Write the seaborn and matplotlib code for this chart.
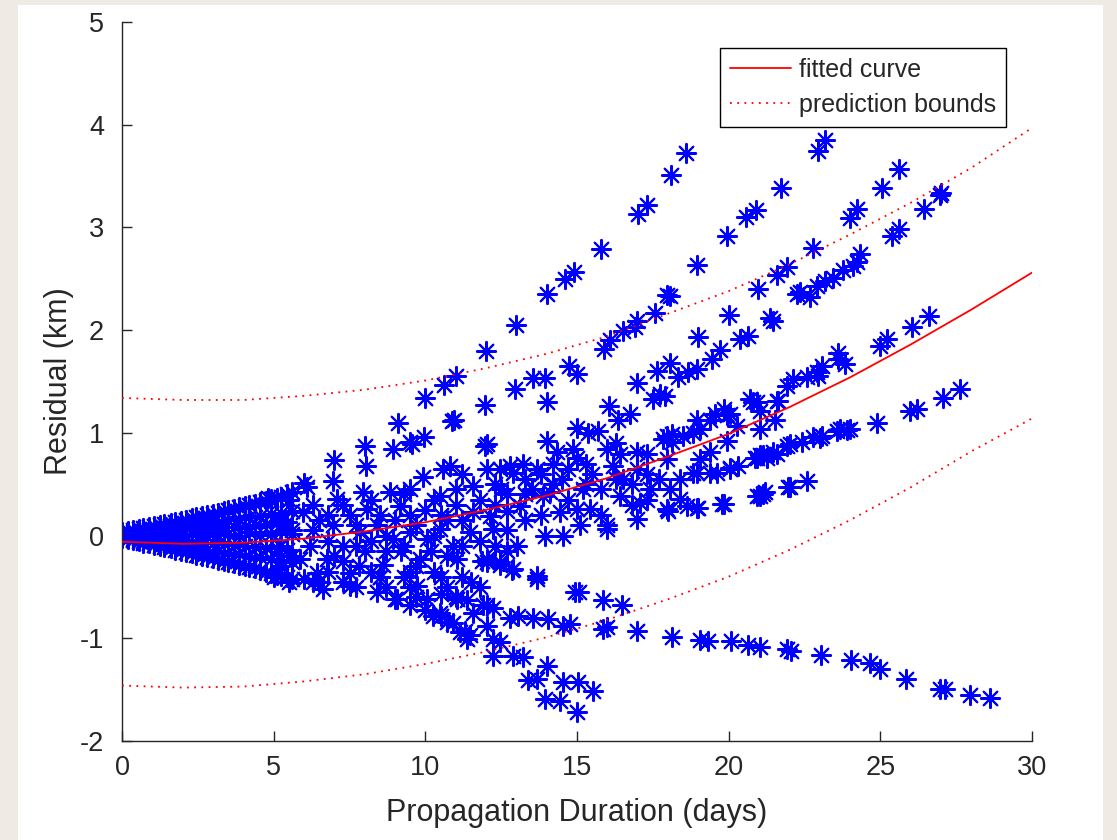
import matplotlib
matplotlib.use("Agg")
import matplotlib.pyplot as plt
from matplotlib.patches import Rectangle
import pandas as pd
import seaborn as sns

# ---------------- data ----------------
# left wedge (x in days, residual in km)
wedge_x = [0.0, 0.35, 0.7, 1.05, 1.4, 1.75, 2.1, 2.45, 2.8, 3.15, 3.5, 3.85, 4.2, 4.55, 4.9, 5.25, 5.6]
wedge_top_y = [0.03, 0.05, 0.07, 0.09, 0.11, 0.13, 0.15, 0.18, 0.20, 0.22, 0.25, 0.28, 0.30, 0.33, 0.36, 0.38, 0.42]
wedge_up_y = [0.02, 0.03, 0.04, 0.05, 0.07, 0.08, 0.09, 0.10, 0.12, 0.13, 0.15, 0.16, 0.18, 0.19, 0.21, 0.22, 0.24]
wedge_mid_y = [0.0, 0.0, 0.0, 0.01, 0.0, 0.01, 0.0, 0.02, 0.0, 0.01, 0.02, 0.0, 0.03, 0.01, 0.02, 0.04, 0.02]
wedge_low_y = [-0.01, -0.03, -0.05, -0.06, -0.08, -0.09, -0.11, -0.12, -0.14, -0.15, -0.17, -0.18, -0.20, -0.21, -0.23, -0.24, -0.26]
wedge_bot_y = [-0.02, -0.04, -0.07, -0.09, -0.11, -0.14, -0.16, -0.19, -0.21, -0.24, -0.26, -0.29, -0.31, -0.34, -0.36, -0.39, -0.42]
wedge2_x = [0.2, 0.55, 0.9, 1.25, 1.6, 1.95, 2.3, 2.65, 3.0, 3.35, 3.7, 4.05, 4.4, 4.75, 5.1, 5.45]
wedge2_a_y = [0.04, 0.06, 0.08, 0.10, 0.12, 0.14, 0.17, 0.19, 0.21, 0.24, 0.26, 0.29, 0.31, 0.34, 0.37, 0.40]
wedge2_b_y = [0.01, 0.02, 0.02, 0.03, 0.04, 0.05, 0.05, 0.06, 0.07, 0.08, 0.08, 0.09, 0.10, 0.11, 0.12, 0.13]
wedge2_c_y = [-0.01, -0.02, -0.03, -0.04, -0.04, -0.05, -0.06, -0.07, -0.07, -0.08, -0.09, -0.10, -0.11, -0.12, -0.12, -0.14]
wedge2_d_y = [-0.03, -0.05, -0.07, -0.10, -0.12, -0.15, -0.17, -0.20, -0.22, -0.25, -0.27, -0.30, -0.32, -0.35, -0.38, -0.40]

# steepest upper track
track_a_x = [4.82, 5.5, 6.0, 6.1, 7.0, 8.0, 9.1, 10.0, 10.6, 11.0, 12.0, 13.0, 14.0, 14.6, 14.9, 15.8, 17.0, 17.3, 18.1, 18.6, 22.96, 23.18]
track_a_y = [0.37, 0.35, 0.51, 0.47, 0.74, 0.87, 1.10, 1.34, 1.47, 1.55, 1.80, 2.05, 2.35, 2.50, 2.57, 2.79, 3.13, 3.22, 3.51, 3.72, 3.74, 3.85]

# upper fan of tracks
upper_x = [9.5, 9.97, 10.87, 11.97, 12.96, 13.56, 13.95, 14.75, 14.99, 15.89, 16.09, 16.53, 16.91, 16.97,
           17.57, 17.96, 18.07, 18.95, 19.94, 20.56, 20.90, 21.73,
           20.01, 20.96, 21.59, 21.92, 22.79, 24.0, 24.22, 25.05, 25.6,
           22.24, 22.35, 22.68, 22.90, 23.18, 23.45, 23.78, 24.11, 24.22, 24.33, 25.38, 25.6, 26.45, 26.97, 27.0,
           16.04, 16.36, 16.75, 16.97, 17.52, 17.63, 17.74, 17.90, 18.07, 18.34, 18.67, 18.95, 19.0, 19.44,
           19.72, 20.38, 20.65, 21.36, 21.47,
           20.71, 20.93, 21.04, 21.59, 21.64, 21.92, 22.13, 22.57, 22.9, 22.96, 23.07, 23.62, 23.62, 23.84,
           24.99, 25.21, 26.04, 26.59]
upper_y = [0.91, 0.96, 1.12, 1.27, 1.43, 1.53, 1.53, 1.65, 1.57, 1.82, 1.90, 1.99, 2.03, 2.09,
           2.17, 2.34, 2.33, 2.63, 2.92, 3.10, 3.17, 3.38,
           2.15, 2.40, 2.54, 2.61, 2.80, 3.09, 3.18, 3.38, 3.57,
           2.35, 2.37, 2.32, 2.43, 2.48, 2.51, 2.59, 2.62, 2.66, 2.74, 2.92, 2.98, 3.18, 3.32, 3.34,
           1.26, 1.13, 1.18, 1.49, 1.33, 1.60, 1.38, 1.36, 1.68, 1.54, 1.59, 1.62, 1.93, 1.72,
           1.81, 1.91, 1.94, 2.12, 2.09,
           1.33, 1.30, 1.21, 1.31, 1.31, 1.46, 1.52, 1.54, 1.59, 1.55, 1.65, 1.72, 1.78, 1.67,
           1.85, 1.91, 2.03, 2.14]

# tracks right of x=17 around the fitted curve
middle_x = [17.85, 18.12, 18.51, 18.95, 19.06, 19.55, 19.83, 20.05, 20.27, 20.81, 21.04, 21.53, 19.94,
            19.39, 19.06, 18.84, 20.05, 17.96, 18.84, 19.39, 19.94]
middle_y = [0.94, 0.99, 0.97, 1.13, 1.04, 1.18, 1.23, 1.18, 1.07, 1.30, 1.04, 1.13, 0.92,
            0.81, 0.75, 0.61, 0.65, 0.75, 1.00, 1.13, 1.17]
lower_x = [18.07, 18.40, 18.95, 19.39, 19.61, 20.05, 20.32, 20.87, 20.93, 21.04, 21.14, 21.26, 21.47,
           21.59, 21.92, 22.02, 22.41, 22.79, 23.01, 23.07, 23.56, 23.67, 23.89, 24.0, 24.88, 25.98,
           26.2, 27.08, 27.63]
lower_y = [0.45, 0.55, 0.61, 0.61, 0.61, 0.66, 0.68, 0.76, 0.76, 0.78, 0.78, 0.76, 0.81,
           0.79, 0.87, 0.89, 0.91, 0.96, 0.95, 0.97, 1.02, 1.04, 1.03, 1.04, 1.10, 1.21,
           1.23, 1.34, 1.43]
bottom_x = [17.96, 18.01, 18.62, 18.95, 19.0, 19.77, 19.83, 20.93, 21.04, 21.14, 21.20, 22.01, 21.97, 22.57]
bottom_y = [0.26, 0.24, 0.29, 0.27, 0.27, 0.31, 0.31, 0.39, 0.39, 0.40, 0.42, 0.47, 0.47, 0.53]

# descending tracks
desc_x = [8.5, 9.5, 10.5, 11.0, 11.36, 11.91, 12.24, 12.79, 13.07, 13.56, 14.06, 14.55, 14.77, 15.87,
          15.98, 16.97, 18.13, 19.06, 19.32, 20.08, 20.64, 21.04, 21.93, 22.06, 23.05, 24.04, 24.66,
          24.99, 25.85, 26.97, 27.13, 27.96, 28.62]
desc_y = [-0.40, -0.50, -0.57, -0.60, -0.63, -0.68, -0.71, -0.80, -0.78, -0.80, -0.81, -0.88, -0.86, -0.91,
          -0.89, -0.93, -0.99, -1.02, -1.03, -1.03, -1.07, -1.08, -1.10, -1.12, -1.16, -1.21, -1.24,
          -1.30, -1.40, -1.49, -1.49, -1.55, -1.58]
desc_mid_x = [11.86, 12.46, 12.85, 13.67, 14.94, 15.05, 15.87, 16.47]
desc_mid_y = [-0.25, -0.29, -0.34, -0.42, -0.55, -0.55, -0.63, -0.68]
steep_x = [9.0, 9.5, 10.0, 10.5, 10.9, 11.31, 11.47, 12.24, 12.24, 12.46, 12.90, 13.23, 13.40, 13.67,
           14.0, 13.95, 14.44, 14.55, 15.04, 14.99, 15.54]
steep_y = [-0.62, -0.68, -0.72, -0.78, -0.85, -0.93, -0.97, -1.01, -1.17, -1.04, -1.17, -1.18, -1.41, -1.40,
           -1.27, -1.59, -1.61, -1.43, -1.43, -1.72, -1.51]

# central cloud between x = 5 and x = 18
cloud_x = [6.97, 8.04, 8.95, 9.55, 10.93, 11.97,
           5.98, 7.08, 7.96, 8.84, 9.50, 9.93, 10.59, 10.81, 11.58, 12.02, 10.48,
           5.0, 5.5, 6.0, 6.5, 6.64, 7.52, 8.40, 9.06, 9.72, 10.05, 10.48, 11.04, 11.58, 12.02, 12.02, 11.14,
           11.36, 10.70, 10.26,
           6.20, 6.75, 7.30, 7.85, 8.40, 8.95, 9.50, 10.05, 10.48, 10.92, 11.47, 12.02, 11.03, 9.83, 8.62,
           7.52, 6.42, 5.87, 6.97, 8.07, 9.17, 11.58,
           6.5, 7.5, 8.5, 9.0, 9.5, 10.0, 10.5, 11.0, 11.0, 7.0, 8.0, 8.5, 9.5, 10.5, 11.5, 7.8, 9.2, 10.2,
           12.02, 14.0, 14.0, 14.99, 15.37, 15.70, 12.79, 13.23, 12.90, 12.46, 13.67, 14.33, 14.88, 14.99,
           15.98, 16.42, 16.97, 17.30, 17.96, 18.12, 16.20, 16.97,
           12.13, 12.68, 13.12, 13.89, 14.11, 14.44, 14.99, 15.10, 15.43, 15.98, 16.42, 17.08, 17.41,
           18.40, 16.97, 15.98, 13.95, 14.55, 13.01, 12.24, 12.02, 12.46, 12.90, 13.67,
           13.5, 14.5, 15.5, 16.5, 15.2, 12.5]
cloud_y = [0.53, 0.68, 0.84, 0.89, 1.13, 0.87,
           0.23, 0.36, 0.42, 0.42, 0.45, 0.57, 0.65, 0.68, 0.48, 0.65, 0.39,
           -0.40, -0.45, -0.42, -0.45, -0.52, -0.49, -0.55, -0.62, -0.49, -0.62, -0.75, -0.62, -0.75, -0.68, -0.88, -0.94,
           -1.01, -0.84, -0.78,
           -0.10, -0.23, -0.10, 0.03, 0.10, -0.03, 0.03, -0.03, 0.06, -0.10, 0.03, -0.23, -0.23, -0.23, -0.29,
           -0.36, -0.36, -0.23, 0.10, 0.26, 0.29, 0.23,
           0.15, 0.20, 0.20, 0.15, 0.20, 0.25, 0.20, 0.30, 0.45, -0.20, -0.15, -0.40, -0.35, -0.40, -0.45, -0.30, -0.15, -0.15,
           0.89, 0.92, 1.30, 1.05, 1.00, 1.02, 0.68, 0.70, 0.61, 0.65, 0.65, 0.81, 0.84, 0.76,
           0.84, 0.79, 0.81, 0.79, 0.97, 0.91, 0.68, 0.65,
           0.19, 0.24, 0.29, 0.39, 0.42, 0.23, 0.26, 0.10, 0.26, 0.10, 0.39, 0.32, 0.45,
           0.36, 0.16, 0.06, 0.00, 0.00, -0.10, 0.06, -0.26, -0.26, -0.33, -0.39,
           0.45, 0.55, 0.60, 0.55, 0.45, 0.45]
cloud2_x = [5.2, 5.2, 5.2, 5.6, 5.6, 6.3, 6.3, 6.3, 6.8, 6.8, 6.8, 7.3, 7.3, 7.3, 7.7, 7.7, 7.7,
            8.2, 8.2, 8.2, 8.7, 8.7, 8.7, 9.3, 9.3, 9.3, 9.7, 9.7, 9.7, 10.3, 10.3, 10.3,
            10.7, 10.7, 10.7, 11.2, 11.2, 11.2, 11.2, 11.8, 11.8, 11.8, 12.3, 12.3, 12.3,
            12.7, 12.7, 12.7, 13.3, 13.3, 13.3, 13.8, 13.8, 14.2, 14.2, 14.7, 14.7, 15.3, 15.3,
            15.8, 15.8, 16.3, 16.3, 16.8, 16.8, 17.3, 17.3, 17.7]
cloud2_y = [0.15, -0.10, -0.30, 0.05, -0.20, 0.30, 0.05, -0.45, 0.20, -0.05, -0.35, 0.30, -0.25, -0.45,
            0.10, -0.10, -0.50, 0.35, -0.05, -0.35, 0.00, -0.15, -0.50, 0.40, -0.10, -0.40,
            0.10, -0.30, -0.60, 0.35, 0.00, -0.35, 0.15, -0.20, -0.50, 0.60, 0.15, -0.10, -0.40,
            0.35, -0.05, -0.50, 0.50, 0.30, -0.10, 0.40, 0.05, -0.15, 0.55, 0.40, 0.15,
            0.60, 0.20, 0.70, 0.50, 0.65, 0.35, 0.70, 0.50, 0.45, 0.20, 0.90, 0.55, 0.50, 0.30,
            0.60, 0.35, 0.55]

# curves read at x = 0, 2, ..., 30
curve_x = [0, 2, 4, 6, 8, 10, 12, 14, 16, 18, 20, 22, 24, 26, 28, 30]
fit_y = [-0.06, -0.08, -0.07, -0.03, 0.04, 0.13, 0.25, 0.39, 0.56, 0.77, 0.99, 1.25, 1.54, 1.86, 2.20, 2.56]
upper_bound_y = [1.34, 1.32, 1.32, 1.36, 1.42, 1.51, 1.63, 1.77, 1.94, 2.16, 2.38, 2.64, 2.93, 3.24, 3.58, 3.97]
lower_bound_y = [-1.46, -1.48, -1.47, -1.42, -1.35, -1.25, -1.13, -0.99, -0.82, -0.62, -0.40, -0.14, 0.15, 0.47, 0.82, 1.14]

x_ticks = [0, 5, 10, 15, 20, 25, 30]
y_ticks = [-2, -1, 0, 1, 2, 3, 4, 5]
x_label = "Propagation Duration (days)"
y_label = "Residual (km)"
legend_labels = ["fitted curve", "prediction bounds"]

# ---------------- build tables ----------------
xs, ys = [], []
for wy in (wedge_top_y, wedge_up_y, wedge_mid_y, wedge_low_y, wedge_bot_y):
    xs += wedge_x
    ys += wy
for wy in (wedge2_a_y, wedge2_b_y, wedge2_c_y, wedge2_d_y):
    xs += wedge2_x
    ys += wy
for tx, ty in ((track_a_x, track_a_y), (upper_x, upper_y), (middle_x, middle_y), (lower_x, lower_y),
               (bottom_x, bottom_y), (desc_x, desc_y), (desc_mid_x, desc_mid_y), (steep_x, steep_y),
               (cloud_x, cloud_y), (cloud2_x, cloud2_y)):
    assert len(tx) == len(ty)
    xs += tx
    ys += ty
points = pd.DataFrame({"x": xs, "y": ys})
curves = pd.DataFrame({"x": curve_x, "fit": fit_y, "ub": upper_bound_y, "lb": lower_bound_y})

# ---------------- plot ----------------
sns.set_theme(style="white")
plt.rcParams['font.family'] = ['Liberation Sans', 'DejaVu Sans']
TXT = '#262626'

fig = plt.figure(figsize=(11.17, 8.4), dpi=100, facecolor='#efebe4')
fig.patches.append(Rectangle((18 / 1117, 0), (1103 - 18) / 1117, (840 - 5) / 840,
                             transform=fig.transFigure, facecolor='white', edgecolor='none', zorder=-10))
ax = fig.add_axes([122 / 1117, 99 / 840, 910 / 1117, 719 / 840])
ax.set_zorder(1)
ax.set_facecolor('white')

sns.scatterplot(data=points, x="x", y="y", ax=ax, marker=(8, 2, 0), s=190,
                color='#0000ff', linewidth=1.5, legend=False, zorder=2)
sns.lineplot(data=curves, x="x", y="fit", ax=ax, color='#ff0000', linewidth=1.3,
             label=legend_labels[0], estimator=None, sort=False, zorder=3)
sns.lineplot(data=curves, x="x", y="ub", ax=ax, color='#ff0000', linewidth=1.3,
             linestyle=(0, (1, 3)), label=legend_labels[1], estimator=None, sort=False, zorder=3)
sns.lineplot(data=curves, x="x", y="lb", ax=ax, color='#ff0000', linewidth=1.3,
             linestyle=(0, (1, 3)), estimator=None, sort=False, zorder=3)

ax.set_xlim(0, 30)
ax.set_ylim(-2, 5)
ax.set_xticks(x_ticks)
ax.set_yticks(y_ticks)
ax.set_xticklabels([str(t) for t in x_ticks])
ax.set_yticklabels([str(t) for t in y_ticks])
for side in ("top", "right"):
    ax.spines[side].set_visible(False)
for side in ("left", "bottom"):
    ax.spines[side].set_color(TXT)
    ax.spines[side].set_linewidth(1.0)
ax.tick_params(axis='both', direction='in', length=7, width=1.0, colors=TXT, labelsize=19.5)
ax.tick_params(axis='x', pad=10)
ax.tick_params(axis='y', pad=13)
ax.tick_params(top=False, right=False, left=True, bottom=True)
ax.set_xlabel(x_label, fontsize=22, color=TXT, labelpad=12)
ax.set_ylabel(y_label, fontsize=22, color=TXT, labelpad=4)

handles, labels = ax.get_legend_handles_labels()
leg = ax.legend(handles, labels, loc='upper right', bbox_to_anchor=(0.9714, 0.9638),
                borderaxespad=0, fontsize=18, frameon=True, fancybox=False, framealpha=1,
                edgecolor='#000000', handlelength=2.45, handletextpad=0.3, borderpad=0.4,
                labelspacing=0.42)
leg.get_frame().set_linewidth(1.0)
for t in leg.get_texts():
    t.set_color(TXT)

fig.savefig("out.png", dpi=100, facecolor=fig.get_facecolor())
